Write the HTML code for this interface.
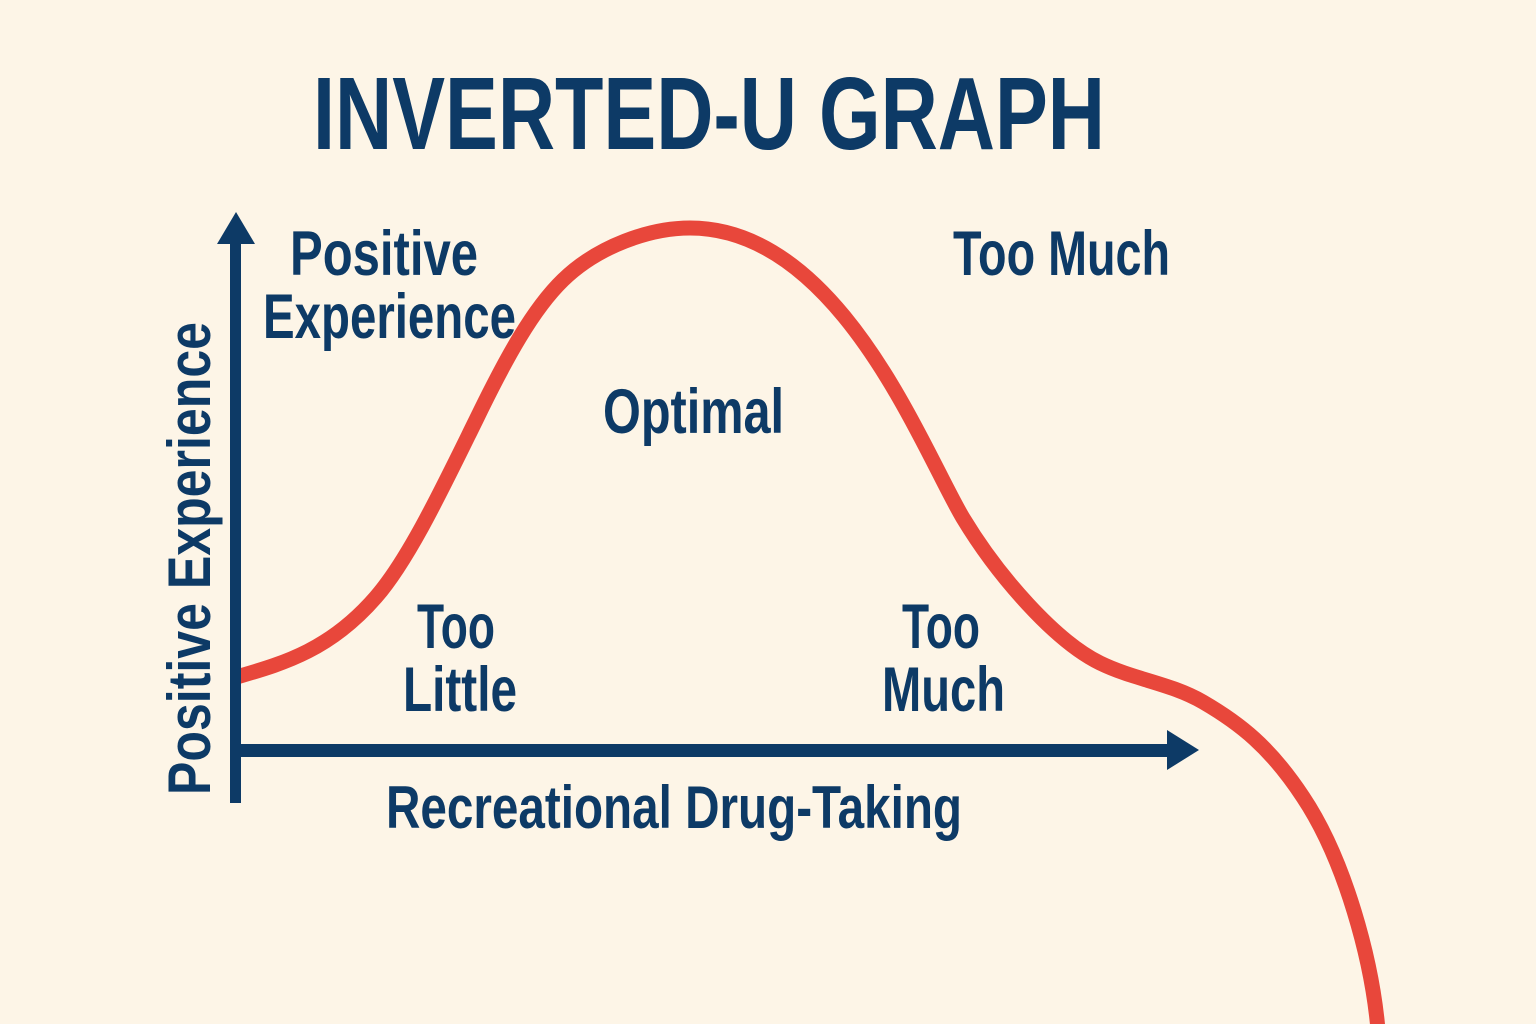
<!DOCTYPE html>
<html>
<head>
<meta charset="utf-8">
<style>
  html, body { margin: 0; padding: 0; background: #fdf5e7; }
  body { width: 1536px; height: 1024px; overflow: hidden; }
  svg { display: block; }
  text { font-family: "Liberation Sans Narrow", "Liberation Sans", "DejaVu Sans Condensed", sans-serif; font-weight: bold; fill: #0d3a66; }
</style>
</head>
<body>
<svg width="1536" height="1024" viewBox="0 0 1536 1024" xmlns="http://www.w3.org/2000/svg">
  <rect x="0" y="0" width="1536" height="1024" fill="#fdf5e7"/>

  <!-- Title -->
  <text x="313" y="149" font-size="103" textLength="792" lengthAdjust="spacingAndGlyphs">INVERTED-U GRAPH</text>

  <!-- Red curve -->
  <path d="M234,678 L240,676
    C285,663 331,649 376,597
    C409,559 443,487 476,420
    C506,358 533,309 563,280
    C598,246 650,228 690,228
    C840,228 923,451 963,518
    C998,576 1055,641 1100,663
    C1135,680 1170,683 1203,702
    C1240,723.5 1270,747 1303,797
    C1345,860 1372,960 1378,1030"
    fill="none" stroke="#e8473b" stroke-width="15" stroke-linejoin="round"/>

  <!-- Y axis -->
  <rect x="230" y="238" width="11" height="565" fill="#0d3a66"/>
  <polygon points="236,212 217,244 255,244" fill="#0d3a66"/>

  <!-- X axis -->
  <rect x="230" y="744" width="940" height="13" fill="#0d3a66"/>
  <polygon points="1167,730 1199,750 1167,770" fill="#0d3a66"/>

  <!-- Labels -->
  <text x="290" y="275" font-size="63" textLength="188" lengthAdjust="spacingAndGlyphs">Positive</text>
  <text x="263" y="338" font-size="63" textLength="253" lengthAdjust="spacingAndGlyphs">Experience</text>

  <text x="953" y="275" font-size="63" textLength="217" lengthAdjust="spacingAndGlyphs">Too Much</text>

  <text x="603" y="433" font-size="63" textLength="181" lengthAdjust="spacingAndGlyphs">Optimal</text>

  <text x="417" y="648" font-size="63" textLength="78" lengthAdjust="spacingAndGlyphs">Too</text>
  <text x="403" y="711" font-size="63" textLength="114" lengthAdjust="spacingAndGlyphs">Little</text>

  <text x="902" y="648" font-size="63" textLength="78" lengthAdjust="spacingAndGlyphs">Too</text>
  <text x="882" y="711" font-size="63" textLength="123" lengthAdjust="spacingAndGlyphs">Much</text>

  <text x="386" y="828" font-size="60" textLength="576" lengthAdjust="spacingAndGlyphs">Recreational Drug-Taking</text>

  <!-- Rotated Y label -->
  <text transform="translate(210,795) rotate(-90)" x="0" y="0" font-size="60" textLength="473" lengthAdjust="spacingAndGlyphs">Positive Experience</text>
</svg>
</body>
</html>
